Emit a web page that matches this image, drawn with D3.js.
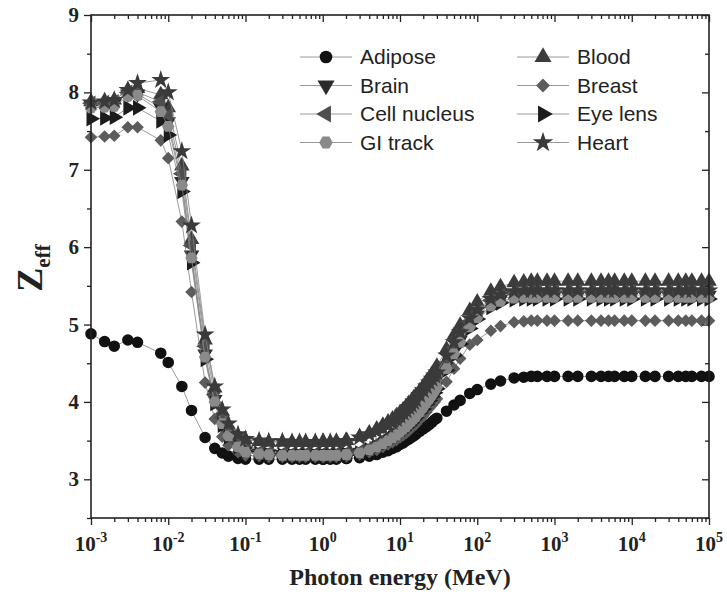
<!DOCTYPE html>
<html>
<head>
<meta charset="utf-8">
<script src="https://cdn.jsdelivr.net/npm/d3@7"></script>
<style>
  body { margin: 0; background: #fff; }
</style>
</head>
<body>
<svg id="chart" width="727" height="601"></svg>
<script>
//
// Data
//

// photon energies, MeV
var energy = [0.001, 0.0015, 0.002, 0.003, 0.004, 0.008, 0.01, 0.015, 0.02, 0.03, 0.04, 0.05, 0.06, 0.08, 0.1,
  0.15, 0.2, 0.3, 0.4, 0.5, 0.6, 0.8, 1, 1.022, 1.25, 1.5, 2, 2.044,
  3, 4, 5, 6, 7, 8, 9, 10, 11, 12, 13, 14, 15, 16, 18, 20, 22, 24, 26, 28, 30, 40, 50, 60, 80, 100, 150, 200, 300,
  400, 500, 600, 800, 1000, 1500, 2000, 3000, 4000, 5000, 6000, 8000,
  10000, 15000, 20000, 30000, 40000, 50000, 60000, 80000, 100000]

var adipose = [4.88, 4.78, 4.72, 4.80, 4.77, 4.63, 4.51, 4.20, 3.89, 3.54, 3.40, 3.34, 3.30, 3.27, 3.26,
  3.26, 3.26, 3.26, 3.26, 3.26, 3.26, 3.26, 3.26, 3.26, 3.26, 3.26, 3.27, 3.27,
  3.28, 3.30, 3.32, 3.35, 3.37, 3.40, 3.42, 3.45, 3.47, 3.50, 3.52, 3.54, 3.56, 3.58, 3.62, 3.65, 3.68, 3.71, 3.74, 3.77, 3.79, 3.88, 3.96, 4.02, 4.11, 4.16, 4.23, 4.27, 4.31,
  4.32, 4.33, 4.33, 4.33, 4.33, 4.33, 4.33, 4.33, 4.33, 4.33, 4.33, 4.33,
  4.33, 4.33, 4.33, 4.33, 4.33, 4.33, 4.33, 4.33, 4.33]

var blood = [7.88, 7.89, 7.90, 8.03, 8.05, 7.97, 7.80, 7.05, 6.10, 4.80, 4.18, 3.88, 3.70, 3.56, 3.51,
  3.49, 3.48, 3.48, 3.48, 3.48, 3.48, 3.48, 3.48, 3.48, 3.48, 3.49, 3.50, 3.50,
  3.55, 3.60, 3.65, 3.70, 3.74, 3.78, 3.82, 3.86, 3.90, 3.94, 3.98, 4.01, 4.05, 4.08, 4.14, 4.20, 4.26, 4.31, 4.36, 4.41, 4.46, 4.68, 4.86, 4.99, 5.18, 5.29, 5.43, 5.49, 5.54,
  5.55, 5.56, 5.56, 5.56, 5.56, 5.56, 5.56, 5.56, 5.56, 5.56, 5.56, 5.56,
  5.56, 5.56, 5.56, 5.56, 5.56, 5.56, 5.56, 5.56, 5.56]

var brain = [7.84, 7.85, 7.86, 7.98, 7.98, 7.80, 7.62, 6.85, 5.90, 4.62, 4.03, 3.74, 3.58, 3.44, 3.37,
  3.34, 3.33, 3.32, 3.32, 3.32, 3.32, 3.32, 3.32, 3.32, 3.32, 3.32, 3.33, 3.33,
  3.35, 3.39, 3.43, 3.47, 3.51, 3.55, 3.59, 3.63, 3.67, 3.70, 3.74, 3.77, 3.81, 3.84, 3.90, 3.96, 4.02, 4.07, 4.12, 4.17, 4.22, 4.46, 4.65, 4.80, 5.00, 5.12, 5.27, 5.33, 5.37,
  5.38, 5.38, 5.38, 5.38, 5.38, 5.38, 5.38, 5.38, 5.38, 5.38, 5.38, 5.38,
  5.38, 5.38, 5.38, 5.38, 5.38, 5.38, 5.38, 5.38, 5.38]

var breast = [7.42, 7.43, 7.44, 7.55, 7.55, 7.38, 7.15, 6.33, 5.42, 4.25, 3.78, 3.55, 3.44, 3.35, 3.31,
  3.30, 3.29, 3.29, 3.29, 3.29, 3.29, 3.29, 3.29, 3.29, 3.29, 3.29, 3.30, 3.30,
  3.32, 3.35, 3.38, 3.42, 3.45, 3.48, 3.51, 3.54, 3.57, 3.60, 3.63, 3.66, 3.69, 3.71, 3.77, 3.82, 3.87, 3.92, 3.96, 4.00, 4.04, 4.26, 4.43, 4.56, 4.74, 4.80, 4.92, 4.98, 5.03,
  5.04, 5.05, 5.05, 5.05, 5.05, 5.05, 5.05, 5.05, 5.05, 5.05, 5.05, 5.05,
  5.05, 5.05, 5.05, 5.05, 5.05, 5.05, 5.05, 5.05, 5.05]

var cellNucleus = [7.86, 7.87, 7.88, 8.00, 8.00, 7.88, 7.70, 6.95, 6.02, 4.72, 4.10, 3.80, 3.63, 3.48, 3.40,
  3.35, 3.34, 3.33, 3.33, 3.33, 3.33, 3.33, 3.33, 3.33, 3.33, 3.33, 3.34, 3.34,
  3.36, 3.40, 3.45, 3.50, 3.54, 3.58, 3.62, 3.66, 3.70, 3.74, 3.77, 3.81, 3.84, 3.87, 3.94, 4.00, 4.06, 4.11, 4.16, 4.21, 4.26, 4.50, 4.70, 4.84, 5.04, 5.16, 5.31, 5.37, 5.41,
  5.42, 5.42, 5.42, 5.42, 5.42, 5.42, 5.42, 5.42, 5.42, 5.42, 5.42, 5.42,
  5.42, 5.42, 5.42, 5.42, 5.42, 5.42, 5.42, 5.42, 5.42]

var eyeLens = [7.66, 7.67, 7.68, 7.80, 7.80, 7.63, 7.45, 6.72, 5.80, 4.55, 3.98, 3.70, 3.55, 3.42, 3.36,
  3.33, 3.32, 3.31, 3.31, 3.31, 3.31, 3.31, 3.31, 3.31, 3.31, 3.31, 3.32, 3.32,
  3.34, 3.38, 3.42, 3.45, 3.49, 3.53, 3.56, 3.60, 3.63, 3.67, 3.70, 3.73, 3.77, 3.80, 3.86, 3.91, 3.97, 4.02, 4.07, 4.12, 4.17, 4.41, 4.60, 4.75, 4.95, 5.07, 5.22, 5.28, 5.32,
  5.33, 5.33, 5.33, 5.33, 5.33, 5.33, 5.33, 5.33, 5.33, 5.33, 5.33, 5.33,
  5.33, 5.33, 5.33, 5.33, 5.33, 5.33, 5.33, 5.33, 5.33]

var giTrack = [7.80, 7.81, 7.82, 7.95, 7.96, 7.75, 7.56, 6.80, 5.86, 4.58, 4.00, 3.72, 3.56, 3.42, 3.35,
  3.33, 3.32, 3.31, 3.31, 3.31, 3.31, 3.31, 3.31, 3.31, 3.31, 3.31, 3.32, 3.32,
  3.34, 3.38, 3.42, 3.46, 3.50, 3.54, 3.57, 3.61, 3.65, 3.68, 3.72, 3.75, 3.78, 3.81, 3.87, 3.93, 3.99, 4.04, 4.09, 4.14, 4.19, 4.43, 4.62, 4.77, 4.97, 5.09, 5.24, 5.30, 5.34,
  5.35, 5.35, 5.35, 5.35, 5.35, 5.35, 5.35, 5.35, 5.35, 5.35, 5.35, 5.35,
  5.35, 5.35, 5.35, 5.35, 5.35, 5.35, 5.35, 5.35, 5.35]

var heart = [7.87, 7.88, 7.90, 8.03, 8.12, 8.16, 8.00, 7.24, 6.28, 4.87, 4.20, 3.90, 3.72, 3.58, 3.52,
  3.50, 3.49, 3.49, 3.48, 3.48, 3.48, 3.48, 3.48, 3.48, 3.48, 3.48, 3.49, 3.49,
  3.54, 3.58, 3.62, 3.66, 3.70, 3.74, 3.78, 3.82, 3.86, 3.89, 3.93, 3.96, 4.00, 4.03, 4.09, 4.15, 4.20, 4.25, 4.30, 4.34, 4.38, 4.60, 4.77, 4.90, 5.08, 5.19, 5.33, 5.39, 5.43,
  5.44, 5.44, 5.44, 5.44, 5.44, 5.44, 5.44, 5.44, 5.44, 5.44, 5.44, 5.44,
  5.44, 5.44, 5.44, 5.44, 5.44, 5.44, 5.44, 5.44, 5.44]

var seriesNames = ['Adipose', 'Blood', 'Brain', 'Breast', 'Cell nucleus', 'Eye lens', 'GI track', 'Heart']
var seriesValues = [adipose, blood, brain, breast, cellNucleus, eyeLens, giTrack, heart]

var yTicks = [3, 4, 5, 6, 7, 8, 9]
var xDecades = [-3, -2, -1, 0, 1, 2, 3, 4, 5]

//
// Styles
//

var hexagon = {
  draw: function (context, size) {
    var r = Math.sqrt(size / 2.598)
    for (var i = 0; i < 6; i++) {
      var a = Math.PI / 3 * i
      if (i === 0) context.moveTo(r * Math.cos(a), r * Math.sin(a))
      else context.lineTo(r * Math.cos(a), r * Math.sin(a))
    }
    context.closePath()
  }
}

var styles = {
  'Adipose':      { symbol: d3.symbolCircle,   size: 105, rotate: 0,   color: '#111' },
  'Blood':        { symbol: d3.symbolTriangle, size: 105, rotate: 0,   color: '#3c3c3c' },
  'Brain':        { symbol: d3.symbolTriangle, size: 105, rotate: 180, color: '#2c2c2c' },
  'Breast':       { symbol: d3.symbolSquare,   size: 80,  rotate: 45,  color: '#5c5c5c' },
  'Cell nucleus': { symbol: d3.symbolTriangle, size: 105, rotate: -90, color: '#4e4e4e' },
  'Eye lens':     { symbol: d3.symbolTriangle, size: 105, rotate: 90,  color: '#1c1c1c' },
  'GI track':     { symbol: hexagon,           size: 100, rotate: 0,   color: '#8a8a8a' },
  'Heart':        { symbol: d3.symbolStar,     size: 110, rotate: 0,   color: '#3a3a3a' }
}

//
// Layout
//

var svg = d3.select('#chart')
var plotLeft = 91, plotRight = 709, plotTop = 15, plotBottom = 518
var serif = '"Liberation Serif", "Times New Roman", serif'
var sans = '"Liberation Sans", Arial, sans-serif'

var x = d3.scaleLog().domain([1e-3, 1e5]).range([plotLeft, plotRight])
var y = d3.scaleLinear().domain([2.5, 9]).range([plotBottom, plotTop])

var minorX = []
xDecades.slice(0, -1).forEach(function (p) {
  for (var k = 2; k < 10; k++) minorX.push(k * Math.pow(10, p))
})
var majorX = xDecades.map(function (p) { return Math.pow(10, p) })
var minorY = [2.5, 3.5, 4.5, 5.5, 6.5, 7.5, 8.5]

//
// Series
//

var line = d3.line()
  .x(function (d) { return x(d[0]) })
  .y(function (d) { return y(d[1]) })

var plot = svg.append('g')

seriesNames.forEach(function (name, i) {
  var pts = energy.map(function (e, j) { return [e, seriesValues[i][j]] })
  var st = styles[name]
  plot.append('path')
    .attr('d', line(pts))
    .attr('fill', 'none')
    .attr('stroke', '#808080')
    .attr('stroke-width', 0.8)
  plot.append('g').selectAll('path')
    .data(pts)
    .join('path')
    .attr('transform', function (d) {
      return 'translate(' + x(d[0]) + ',' + y(d[1]) + ') rotate(' + st.rotate + ')'
    })
    .attr('d', d3.symbol(st.symbol, st.size))
    .attr('fill', st.color)
})

//
// Axes
//

function styleAxis(g) {
  g.select('.domain').remove()
  g.selectAll('line').attr('stroke', '#222').attr('stroke-width', 1.3)
  g.selectAll('text').remove()
}

// bottom: outward ticks, top: inward ticks
svg.append('g').attr('transform', 'translate(0,' + plotBottom + ')')
  .call(d3.axisBottom(x).tickValues(majorX).tickSize(7)).call(styleAxis)
svg.append('g').attr('transform', 'translate(0,' + plotBottom + ')')
  .call(d3.axisBottom(x).tickValues(minorX).tickSize(4)).call(styleAxis)
svg.append('g').attr('transform', 'translate(0,' + plotTop + ')')
  .call(d3.axisBottom(x).tickValues(majorX).tickSize(7)).call(styleAxis)
svg.append('g').attr('transform', 'translate(0,' + plotTop + ')')
  .call(d3.axisBottom(x).tickValues(minorX).tickSize(4)).call(styleAxis)

// left: outward ticks, right: inward ticks
svg.append('g').attr('transform', 'translate(' + plotLeft + ',0)')
  .call(d3.axisLeft(y).tickValues(yTicks).tickSize(7)).call(styleAxis)
svg.append('g').attr('transform', 'translate(' + plotLeft + ',0)')
  .call(d3.axisLeft(y).tickValues(minorY).tickSize(4)).call(styleAxis)
svg.append('g').attr('transform', 'translate(' + plotRight + ',0)')
  .call(d3.axisLeft(y).tickValues(yTicks).tickSize(7)).call(styleAxis)
svg.append('g').attr('transform', 'translate(' + plotRight + ',0)')
  .call(d3.axisLeft(y).tickValues(minorY).tickSize(4)).call(styleAxis)

svg.append('rect')
  .attr('x', plotLeft).attr('y', plotTop)
  .attr('width', plotRight - plotLeft).attr('height', plotBottom - plotTop)
  .attr('fill', 'none').attr('stroke', '#222').attr('stroke-width', 1.6)

// tick labels
svg.append('g').selectAll('text')
  .data(yTicks)
  .join('text')
  .attr('x', plotLeft - 12)
  .attr('y', function (d) { return y(d) + 7 })
  .attr('text-anchor', 'end')
  .attr('font-family', serif).attr('font-weight', 'bold').attr('font-size', 21)
  .attr('fill', '#222')
  .text(function (d) { return d })

var xl = svg.append('g').selectAll('text')
  .data(xDecades)
  .join('text')
  .attr('x', function (d) { return x(Math.pow(10, d)) })
  .attr('y', plotBottom + 33)
  .attr('text-anchor', 'middle')
  .attr('font-family', serif).attr('font-weight', 'bold').attr('font-size', 21)
  .attr('fill', '#222')
xl.append('tspan').text('10')
xl.append('tspan').attr('dy', -9).attr('font-size', 14).text(function (d) { return d })

// axis titles
svg.append('text')
  .attr('x', (plotLeft + plotRight) / 2).attr('y', 585)
  .attr('text-anchor', 'middle')
  .attr('font-family', serif).attr('font-weight', 'bold').attr('font-size', 24)
  .attr('fill', '#222')
  .text('Photon energy (MeV)')

var yt = svg.append('text')
  .attr('transform', 'translate(42,268) rotate(-90)')
  .attr('text-anchor', 'middle')
  .attr('font-family', serif).attr('font-weight', 'bold').attr('font-size', 36)
  .attr('fill', '#222')
yt.append('tspan').text('Z')
yt.append('tspan').attr('dy', 8).attr('font-size', 21).text('eff')

//
// Legend
//

var legend = svg.append('g')
seriesNames.forEach(function (name, i) {
  var col = i % 2, row = Math.floor(i / 2)
  var cx = col === 0 ? 326 : 543
  var cy = 57 + row * 28.5
  var st = styles[name]
  legend.append('line')
    .attr('x1', cx - 26).attr('x2', cx + 26)
    .attr('y1', cy).attr('y2', cy)
    .attr('stroke', '#808080').attr('stroke-width', 0.8)
  legend.append('path')
    .attr('transform', 'translate(' + cx + ',' + cy + ') rotate(' + st.rotate + ')')
    .attr('d', d3.symbol(st.symbol, st.size * 1.2))
    .attr('fill', st.color)
  legend.append('text')
    .attr('x', cx + 34).attr('y', cy + 7)
    .attr('font-family', sans).attr('font-size', 21)
    .attr('fill', '#222')
    .text(name)
})
</script>
</body>
</html>
